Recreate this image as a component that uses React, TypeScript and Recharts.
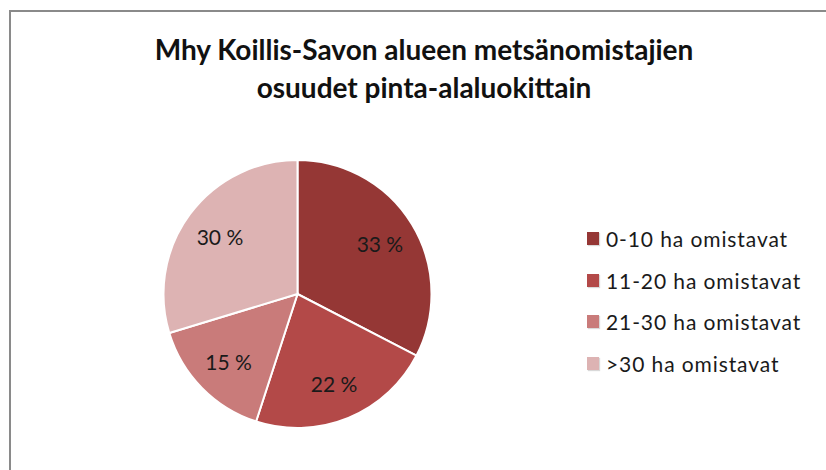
import { PieChart, Pie, Cell, Legend } from "recharts";

const categories = ["0-10 ha omistavat", "11-20 ha omistavat", "21-30 ha omistavat", ">30 ha omistavat"];
const shares = [32.6, 22.4, 15.3, 29.7];
const colors = ["#953735", "#B34948", "#C97B7A", "#DDB3B3"];
const titleLines = ["Mhy Koillis-Savon alueen metsänomistajien", "osuudet pinta-alaluokittain"];

const data = categories.map((name, i) => ({ name, value: shares[i] }));

const RADIAN = Math.PI / 180;
const FONT = "Lato, 'Open Sans', sans-serif";

function renderLabel(props: any) {
  const { cx, cy, midAngle, outerRadius, value } = props;
  const r = outerRadius * 0.72;
  const x = cx + r * Math.cos(-midAngle * RADIAN);
  const y = cy + r * Math.sin(-midAngle * RADIAN);
  return (
    <text x={x} y={y} fill="#1a1a1a" fontSize={21} fontFamily={FONT} textAnchor="middle" dominantBaseline="central">
      {`${Math.round(value)} %`}
    </text>
  );
}

function LegendContent() {
  return (
    <div style={{ fontFamily: FONT }}>
      {categories.map((c, i) => (
        <div key={c} style={{ display: "flex", alignItems: "center", height: 41.5 }}>
          <span
            style={{
              width: 12,
              height: 13,
              background: colors[i],
              boxShadow: "1px 1px 1px rgba(0,0,0,0.15)",
              marginRight: 7,
            }}
          />
          <span style={{ fontSize: 21, color: "#1a1a1a", letterSpacing: 0.9 }}>{c}</span>
        </div>
      ))}
    </div>
  );
}

export default function App() {
  return (
    <div style={{ position: "fixed", left: 0, top: 0, width: 826, height: 470, background: "#fff", overflow: "hidden" }}>
      <div
        style={{
          position: "absolute",
          left: 9,
          top: 10,
          width: 900,
          height: 600,
          borderLeft: "2.5px solid #8a8a8a",
          borderTop: "2.5px solid #8a8a8a",
        }}
      />
      <div
        style={{
          position: "absolute",
          left: 0,
          top: 30,
          width: 848,
          textAlign: "center",
          fontFamily: FONT,
          fontWeight: "bold",
          fontSize: 28,
          lineHeight: "38px",
          color: "#111",
        }}
      >
        {titleLines.map((l) => (
          <div key={l}>{l}</div>
        ))}
      </div>
      <div style={{ position: "absolute", left: 0, top: 0 }}>
        <PieChart width={826} height={470} margin={{ top: 0, right: 0, bottom: 0, left: 0 }}>
          <Pie
            data={data}
            dataKey="value"
            nameKey="name"
            cx={297.5}
            cy={294}
            outerRadius={134}
            startAngle={90}
            endAngle={-270}
            stroke="#fff"
            strokeWidth={2}
            label={renderLabel}
            labelLine={false}
            isAnimationActive={false}
          >
            {data.map((d, i) => (
              <Cell key={d.name} fill={colors[i]} />
            ))}
          </Pie>
          <Legend
            content={<LegendContent />}
            wrapperStyle={{ position: "absolute", left: 587, top: 218, width: 240 }}
          />
        </PieChart>
      </div>
    </div>
  );
}
